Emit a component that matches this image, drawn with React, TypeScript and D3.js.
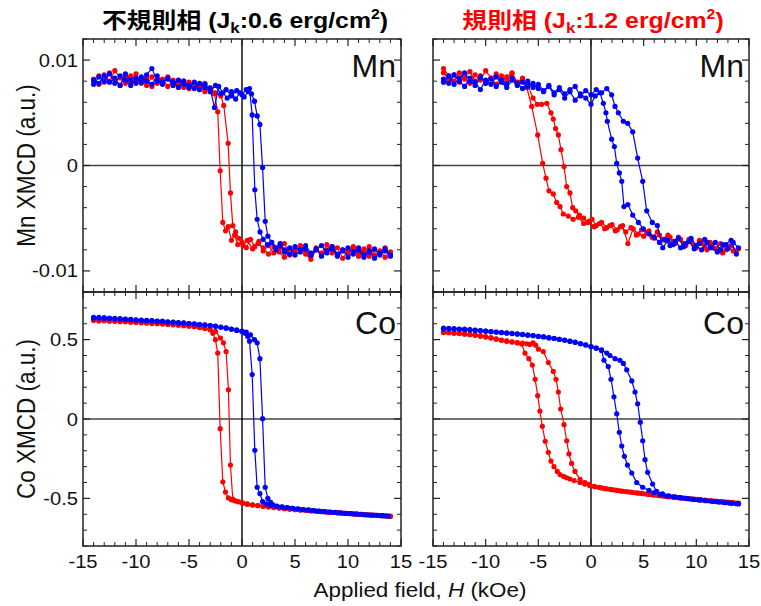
import React from 'react';
import * as d3 from 'd3';

type Pt = [number, number];

// ---------- tick / label data ----------
const xMajorTicks = [-15, -10, -5, 0, 5, 10, 15];
const mnMajorTicks = [-0.01, 0, 0.01];
const mnTickLabels = ['-0.01', '0', '0.01'];
const coMajorTicks = [-0.5, 0, 0.5];
const coTickLabels = ['-0.5', '0', '0.5'];
const phaseNames = ['不規則相', '規則相'];
const jkValues = ['0.6', '1.2'];
const titleColors = ['#000000', '#ff0000'];
const elementLabels = ['Mn', 'Co'];
const yTitles = ['Mn XMCD (a.u.)', 'Co XMCD (a.u.)'];

// ---------- Mn, disordered phase ----------
const mnDisRedA: Pt[] = [[-14,.0082],[-13.5,.0085],[-13,.0079],[-12.5,.0088],[-12,.0081],[-11.5,.0076],[-11,.0084],[-10.5,.0080],[-10,.0087],[-9.5,.0078],[-9,.0083],[-8.5,.0075],[-8,.0081],[-7.5,.0079],[-7,.0084],[-6.5,.0077],[-6,.0080],[-5.5,.0074],[-5,.0079],[-4.5,.0076],[-4,.0072],[-3.5,.0078],[-3,.0071],[-2.6,.0068],[-2.29,.0051],[-2.06,-.0005],[-1.81,-.0054],[-1.55,-.0062],[-1.3,-.0058],[-1.0,-.0071],[-0.7,-.0066],[-0.4,-.0075],[0,-.0073],[0.4,-.0078],[0.8,-.0070],[1.2,-.0077],[1.6,-.0072],[2,-.0081],[2.5,-.0076],[3,-.0083],[3.5,-.0079],[4,-.0074],[4.5,-.0085],[5,-.0080],[5.5,-.0077],[6,-.0084],[6.5,-.0089],[7,-.0080],[7.5,-.0083],[8,-.0075],[8.5,-.0083],[9,-.0078],[9.5,-.0088],[10,-.0081],[10.5,-.0077],[11,-.0084],[11.5,-.0079],[12,-.0086],[12.5,-.0080],[13,-.0083],[13.5,-.0078],[14,-.0084]];
const mnDisRedB: Pt[] = [[-14,.0080],[-13.5,.0077],[-13,.0086],[-12.5,.0080],[-12,.0090],[-11.5,.0083],[-11,.0078],[-10.5,.0085],[-10,.0079],[-9.5,.0082],[-9,.0076],[-8.5,.0084],[-8,.0078],[-7.5,.0082],[-7,.0075],[-6.5,.0081],[-6,.0077],[-5.5,.0080],[-5,.0073],[-4.5,.0078],[-4,.0075],[-3.5,.0070],[-3,.0074],[-2.5,.0069],[-2.0,.0066],[-1.72,.0057],[-1.31,.0021],[-1.09,-.0026],[-0.87,-.0057],[-0.6,-.0063],[-0.3,-.0069],[0.1,-.0076],[0.5,-.0071],[1,-.0079],[1.5,-.0074],[2,-.0078],[2.5,-.0084],[3,-.0077],[3.5,-.0082],[4,-.0087],[4.5,-.0079],[5,-.0083],[5.5,-.0076],[6,-.0081],[6.5,-.0086],[7,-.0078],[7.5,-.0084],[8,-.0080],[8.5,-.0077],[9,-.0085],[9.5,-.0080],[10,-.0083],[10.5,-.0078],[11,-.0086],[11.5,-.0081],[12,-.0077],[12.5,-.0085],[13,-.0081],[13.5,-.0087],[14,-.0082]];
const mnDisBlueA: Pt[] = [[-14,.0077],[-13.5,.0084],[-13,.0080],[-12.5,.0087],[-12,.0078],[-11.5,.0085],[-11,.0081],[-10.5,.0076],[-10,.0083],[-9.5,.0079],[-9,.0086],[-8.5,.0092],[-8,.0080],[-7.5,.0077],[-7,.0083],[-6.5,.0079],[-6,.0074],[-5.5,.0080],[-5,.0076],[-4.5,.0073],[-4,.0078],[-3.5,.0074],[-3,.0070],[-2.5,.0076],[-2,.0068],[-1.5,.0072],[-1,.0066],[-0.5,.0071],[0,.0067],[0.4,.0072],[0.71,.0073],[0.96,.0048],[1.21,-.0023],[1.43,-.0051],[1.7,-.0063],[2.0,-.0070],[2.4,-.0075],[2.8,-.0073],[3.2,-.0080],[3.6,-.0076],[4,-.0082],[4.5,-.0078],[5,-.0085],[5.5,-.0080],[6,-.0076],[6.5,-.0083],[7,-.0079],[7.5,-.0086],[8,-.0081],[8.5,-.0077],[9,-.0084],[9.5,-.0080],[10,-.0087],[10.5,-.0082],[11,-.0078],[11.5,-.0085],[12,-.0081],[12.5,-.0088],[13,-.0083],[13.5,-.0079],[14,-.0085]];
const mnDisBlueB: Pt[] = [[-14,.0081],[-13.5,.0078],[-13,.0085],[-12.5,.0079],[-12,.0083],[-11.5,.0076],[-11,.0087],[-10.5,.0081],[-10,.0078],[-9.5,.0084],[-9,.0080],[-8.5,.0077],[-8,.0085],[-7.5,.0079],[-7,.0082],[-6.5,.0076],[-6,.0081],[-5.5,.0077],[-5,.0074],[-4.5,.0079],[-4,.0072],[-3.5,.0077],[-3,.0073],[-2.6,.0055],[-2.2,.0075],[-1.8,.0069],[-1.4,.0064],[-1,.0070],[-0.6,.0063],[-0.2,.0069],[0.2,.0065],[0.6,.0070],[0.9,.0068],[1.18,.0061],[1.43,.0047],[1.69,.0039],[1.94,-.0002],[2.19,-.0053],[2.44,-.0067],[2.8,-.0073],[3.2,-.0078],[3.6,-.0074],[4,-.0080],[4.5,-.0084],[5,-.0077],[5.5,-.0082],[6,-.0079],[6.5,-.0085],[7,-.0080],[7.5,-.0076],[8,-.0083],[8.5,-.0079],[9,-.0086],[9.5,-.0081],[10,-.0078],[10.5,-.0084],[11,-.0080],[11.5,-.0087],[12,-.0082],[12.5,-.0079],[13,-.0085],[13.5,-.0081],[14,-.0086]];

// ---------- Mn, ordered phase ----------
const mnOrdRedA: Pt[] = [[-14,.0092],[-13.5,.0085],[-13,.0080],[-12.5,.0088],[-12,.0082],[-11.5,.0078],[-11,.0086],[-10.5,.0081],[-10,.0090],[-9.5,.0083],[-9,.0077],[-8.5,.0085],[-8,.0080],[-7.5,.0087],[-7,.0079],[-6.5,.0083],[-6.1,.0074],[-5.63,.0056],[-5.06,.0029],[-4.59,.0002],[-4.27,-.0012],[-3.99,-.0024],[-3.58,-.0027],[-3.26,-.0035],[-2.94,-.0039],[-2.63,-.0046],[-2.16,-.0048],[-1.7,-.0051],[-1.2,-.0049],[-0.7,-.0055],[-0.2,-.0053],[0.3,-.0058],[0.8,-.0055],[1.3,-.0060],[1.8,-.0057],[2.3,-.0062],[2.8,-.0058],[3.3,-.0063],[3.8,-.0059],[4.3,-.0066],[4.8,-.0061],[5.3,-.0064],[5.8,-.0068],[6.3,-.0063],[6.8,-.0070],[7.3,-.0066],[7.8,-.0072],[8.3,-.0068],[8.8,-.0074],[9.3,-.0070],[9.8,-.0076],[10.3,-.0071],[10.8,-.0077],[11.3,-.0073],[11.8,-.0079],[12.3,-.0074],[12.8,-.0080],[13.3,-.0076],[13.8,-.0081]];
const mnOrdRedB: Pt[] = [[-14,.0088],[-13.5,.0081],[-13,.0086],[-12.5,.0079],[-12,.0084],[-11.5,.0089],[-11,.0080],[-10.5,.0085],[-10,.0078],[-9.5,.0083],[-9,.0087],[-8.5,.0080],[-8,.0084],[-7.5,.0088],[-7,.0078],[-6.5,.0082],[-6,.0076],[-5.5,.0064],[-5.1,.0058],[-4.7,.0058],[-4.2,.0059],[-3.8,.0050],[-3.58,.0044],[-3.36,.0035],[-3.1,.0029],[-2.85,.0015],[-2.56,-.0001],[-2.31,-.0020],[-2.0,-.0026],[-1.74,-.0040],[-1.45,-.0043],[-1.1,-.0047],[-0.7,-.0050],[-0.3,-.0054],[0.1,-.0051],[0.5,-.0057],[1,-.0054],[1.5,-.0059],[2,-.0056],[2.5,-.0061],[3,-.0057],[3.5,-.0074],[4,-.0060],[4.5,-.0065],[5,-.0067],[5.5,-.0062],[6,-.0069],[6.5,-.0066],[7,-.0071],[7.5,-.0068],[8,-.0074],[8.5,-.0070],[9,-.0076],[9.5,-.0072],[10,-.0078],[10.5,-.0074],[11,-.0080],[11.5,-.0075],[12,-.0079],[12.5,-.0083],[13,-.0077],[13.5,-.0081],[14,-.0079]];
const mnOrdBlueA: Pt[] = [[-14,.0082],[-13.5,.0078],[-13,.0086],[-12.5,.0080],[-12,.0075],[-11.5,.0083],[-11,.0079],[-10.5,.0072],[-10,.0081],[-9.5,.0077],[-9,.0084],[-8.5,.0079],[-8,.0074],[-7.5,.0081],[-7,.0076],[-6.5,.0079],[-6,.0075],[-5.5,.0078],[-5,.0073],[-4.5,.0070],[-4,.0075],[-3.5,.0067],[-3,.0072],[-2.5,.0064],[-2,.0070],[-1.5,.0062],[-1,.0068],[-0.5,.0064],[0,.0058],[0.4,.0066],[0.85,.0069],[1.17,.0059],[1.42,.0050],[1.55,.0042],[1.96,.0025],[2.22,.0018],[2.44,.0002],[2.69,-.0007],[2.92,-.0015],[3.13,-.0039],[3.5,-.0037],[3.96,-.0047],[4.5,-.0054],[4.97,-.0060],[5.5,-.0065],[6,-.0068],[6.5,-.0073],[7,-.0070],[7.5,-.0076],[8,-.0072],[8.5,-.0078],[9,-.0074],[9.5,-.0069],[10,-.0076],[10.5,-.0080],[11,-.0073],[11.5,-.0078],[12,-.0082],[12.5,-.0075],[13,-.0079],[13.5,-.0073],[14,-.0078]];
const mnOrdBlueB: Pt[] = [[-14,.0079],[-13.5,.0085],[-13,.0077],[-12.5,.0083],[-12,.0088],[-11.5,.0080],[-11,.0076],[-10.5,.0084],[-10,.0078],[-9.5,.0082],[-9,.0075],[-8.5,.0081],[-8,.0077],[-7.5,.0083],[-7,.0078],[-6.5,.0073],[-6,.0080],[-5.5,.0074],[-5,.0077],[-4.5,.0071],[-4,.0076],[-3.5,.0069],[-3,.0074],[-2.5,.0068],[-2,.0072],[-1.5,.0075],[-1,.0066],[-0.5,.0071],[0,.0067],[0.5,.0072],[1,.0069],[1.5,.0073],[1.96,.0067],[2.28,.0056],[2.6,.0050],[3.07,.0042],[3.48,.0040],[3.96,.0032],[4.43,.0007],[4.91,-.0015],[5.29,-.0043],[5.82,-.0054],[6.3,-.0057],[6.81,-.0078],[7.3,-.0071],[7.8,-.0075],[8.3,-.0069],[8.8,-.0077],[9.3,-.0072],[9.8,-.0079],[10.3,-.0074],[10.8,-.0070],[11.3,-.0078],[11.8,-.0073],[12.3,-.0080],[12.8,-.0075],[13.3,-.0071],[13.8,-.0084]];

// ---------- Co, disordered phase ----------
const coDisRedA: Pt[] = [[-14,.625],[-13.5,.622],[-13,.624],[-12.5,.620],[-12,.619],[-11.5,.617],[-11,.615],[-10.5,.613],[-10,.611],[-9.5,.610],[-9,.607],[-8.5,.605],[-8,.603],[-7.5,.601],[-7,.598],[-6.5,.596],[-6,.593],[-5.5,.590],[-5,.587],[-4.5,.583],[-4,.578],[-3.5,.572],[-3,.562],[-2.75,.540],[-2.51,.500],[-2.29,.415],[-2.06,-.061],[-1.81,-.396],[-1.56,-.460],[-1.28,-.497],[-1,-.508],[-0.7,-.515],[-0.4,-.520],[0,-.528],[0.5,-.535],[1,-.540],[1.5,-.545],[2,-.549],[2.5,-.553],[3,-.556],[3.5,-.560],[4,-.563],[4.5,-.566],[5,-.569],[5.5,-.572],[6,-.575],[6.5,-.578],[7,-.580],[7.5,-.583],[8,-.586],[8.5,-.588],[9,-.590],[9.5,-.593],[10,-.595],[10.5,-.597],[11,-.600],[11.5,-.602],[12,-.604],[12.5,-.606],[13,-.608],[13.5,-.610],[14,-.612]];
const coDisRedB: Pt[] = [[-14,.620],[-13.5,.618],[-13,.619],[-12.5,.616],[-12,.615],[-11.5,.613],[-11,.612],[-10.5,.610],[-10,.608],[-9.5,.606],[-9,.604],[-8.5,.602],[-8,.600],[-7.5,.598],[-7,.596],[-6.5,.593],[-6,.591],[-5.5,.588],[-5,.585],[-4.5,.581],[-4,.576],[-3.5,.570],[-3,.563],[-2.5,.552],[-2.03,.510],[-1.75,.480],[-1.5,.425],[-1.28,.184],[-1.09,-.290],[-0.87,-.505],[-0.6,-.515],[-0.3,-.522],[0.1,-.530],[0.5,-.537],[1,-.542],[1.5,-.546],[2,-.550],[2.5,-.554],[3,-.558],[3.5,-.561],[4,-.565],[4.5,-.568],[5,-.571],[5.5,-.574],[6,-.576],[6.5,-.579],[7,-.582],[7.5,-.584],[8,-.587],[8.5,-.589],[9,-.592],[9.5,-.594],[10,-.596],[10.5,-.599],[11,-.601],[11.5,-.603],[12,-.605],[12.5,-.607],[13,-.609],[13.5,-.611],[14,-.613]];
const coDisBlueA: Pt[] = [[-14,.640],[-13.5,.636],[-13,.638],[-12.5,.633],[-12,.634],[-11.5,.630],[-11,.629],[-10.5,.626],[-10,.625],[-9.5,.622],[-9,.621],[-8.5,.618],[-8,.616],[-7.5,.614],[-7,.612],[-6.5,.609],[-6,.607],[-5.5,.604],[-5,.601],[-4.5,.598],[-4,.595],[-3.5,.592],[-3,.588],[-2.5,.584],[-2,.578],[-1.5,.572],[-1,.565],[-0.5,.558],[0,.551],[0.3,.540],[0.55,.520],[0.71,.490],[0.96,.280],[1.21,-.197],[1.43,-.430],[1.69,-.470],[1.94,-.520],[2.3,-.535],[2.7,-.543],[3.2,-.550],[3.7,-.555],[4.2,-.559],[4.7,-.563],[5.2,-.567],[5.7,-.571],[6.2,-.574],[6.7,-.577],[7.2,-.580],[7.7,-.583],[8.2,-.586],[8.7,-.589],[9.2,-.591],[9.7,-.594],[10.2,-.596],[10.7,-.599],[11.2,-.601],[11.7,-.603],[12.2,-.605],[12.7,-.607],[13.2,-.609],[13.7,-.611]];
const coDisBlueB: Pt[] = [[-14,.636],[-13.5,.640],[-13,.634],[-12.5,.636],[-12,.631],[-11.5,.632],[-11,.627],[-10.5,.628],[-10,.623],[-9.5,.623],[-9,.619],[-8.5,.620],[-8,.615],[-7.5,.616],[-7,.611],[-6.5,.611],[-6,.606],[-5.5,.606],[-5,.601],[-4.5,.600],[-4,.595],[-3.5,.593],[-3,.589],[-2.5,.585],[-2,.579],[-1.5,.574],[-1,.567],[-0.5,.561],[0,.554],[0.4,.548],[0.8,.530],[1.18,.500],[1.43,.480],[1.69,.380],[1.94,.002],[2.19,-.430],[2.44,-.500],[2.7,-.525],[2.91,-.540],[3.3,-.548],[3.8,-.554],[4.3,-.558],[4.8,-.563],[5.3,-.566],[5.8,-.570],[6.3,-.573],[6.8,-.577],[7.3,-.580],[7.8,-.583],[8.3,-.586],[8.8,-.588],[9.3,-.591],[9.8,-.594],[10.3,-.596],[10.8,-.598],[11.3,-.601],[11.8,-.603],[12.3,-.605],[12.8,-.607],[13.3,-.609],[13.8,-.612]];

// ---------- Co, ordered phase ----------
const coOrdRedA: Pt[] = [[-14,.548],[-13.5,.546],[-13,.543],[-12.5,.540],[-12,.537],[-11.5,.534],[-11,.530],[-10.5,.524],[-10,.519],[-9.5,.512],[-9,.505],[-8.5,.497],[-8,.492],[-7.5,.486],[-7,.480],[-6.58,.472],[-6.27,.415],[-5.9,.380],[-5.57,.340],[-5.3,.250],[-5.06,.147],[-4.85,.050],[-4.62,-.046],[-4.35,-.140],[-4.05,-.210],[-3.8,-.265],[-3.51,-.300],[-3.2,-.330],[-2.94,-.350],[-2.6,-.362],[-2.31,-.370],[-2.0,-.378],[-1.6,-.388],[-1.04,-.400],[-0.6,-.410],[-0.1,-.420],[0.4,-.427],[1,-.434],[1.5,-.440],[2,-.445],[2.5,-.450],[3,-.455],[3.5,-.459],[4,-.463],[4.5,-.467],[5,-.471],[5.5,-.475],[6,-.479],[6.5,-.483],[7,-.487],[7.5,-.490],[8,-.494],[8.5,-.497],[9,-.500],[9.5,-.503],[10,-.506],[10.5,-.509],[11,-.512],[11.5,-.515],[12,-.518],[12.5,-.521],[13,-.524],[13.5,-.527],[14,-.530]];
const coOrdRedB: Pt[] = [[-14,.545],[-13.5,.544],[-13,.540],[-12.5,.538],[-12,.534],[-11.5,.531],[-11,.527],[-10.5,.522],[-10,.516],[-9.5,.510],[-9,.503],[-8.5,.496],[-8,.490],[-7.5,.485],[-7,.481],[-6.5,.478],[-6.1,.474],[-5.79,.470],[-5.5,.480],[-5.25,.465],[-4.99,.440],[-4.53,.425],[-4.05,.356],[-3.58,.300],[-3.32,.250],[-3.1,.170],[-2.88,.063],[-2.56,-.036],[-2.31,-.137],[-2.09,-.220],[-1.84,-.280],[-1.52,-.330],[-1.04,-.380],[-0.57,-.400],[-0.2,-.412],[0.3,-.424],[0.8,-.431],[1.3,-.438],[1.8,-.443],[2.3,-.448],[2.8,-.453],[3.3,-.457],[3.8,-.461],[4.3,-.465],[4.8,-.469],[5.3,-.473],[5.8,-.477],[6.3,-.481],[6.8,-.485],[7.3,-.489],[7.8,-.492],[8.3,-.495],[8.8,-.499],[9.3,-.502],[9.8,-.505],[10.3,-.508],[10.8,-.511],[11.3,-.514],[11.8,-.517],[12.3,-.520],[12.8,-.523],[13.3,-.526],[13.8,-.529]];
const coOrdBlueA: Pt[] = [[-14,.572],[-13.5,.568],[-13,.570],[-12.5,.565],[-12,.566],[-11.5,.561],[-11,.560],[-10.5,.556],[-10,.554],[-9.5,.550],[-9,.548],[-8.5,.545],[-8,.542],[-7.5,.538],[-7,.536],[-6.5,.532],[-6,.529],[-5.5,.525],[-5,.521],[-4.5,.517],[-4,.512],[-3.5,.507],[-3,.502],[-2.5,.496],[-2,.490],[-1.5,.483],[-1,.475],[-0.5,.466],[0,.456],[0.5,.446],[1,.432],[1.23,.370],[1.64,.330],[1.9,.250],[2.18,.140],[2.44,.033],[2.69,-.084],[2.92,-.170],[3.17,-.235],[3.46,-.290],[3.87,-.340],[4.34,-.400],[4.91,-.430],[5.5,-.450],[6,-.463],[6.6,-.475],[7.2,-.485],[7.8,-.490],[8.4,-.495],[9,-.500],[9.6,-.505],[10.2,-.510],[10.8,-.514],[11.4,-.518],[12,-.522],[12.6,-.526],[13.2,-.530],[13.8,-.534]];
const coOrdBlueB: Pt[] = [[-14,.568],[-13.5,.571],[-13,.566],[-12.5,.567],[-12,.562],[-11.5,.563],[-11,.558],[-10.5,.557],[-10,.553],[-9.5,.551],[-9,.547],[-8.5,.544],[-8,.541],[-7.5,.539],[-7,.535],[-6.5,.533],[-6,.528],[-5.5,.526],[-5,.520],[-4.5,.518],[-4,.511],[-3.5,.508],[-3,.501],[-2.5,.497],[-2,.489],[-1.5,.484],[-1,.474],[-0.5,.467],[0,.455],[0.5,.447],[1,.435],[1.5,.415],[1.8,.400],[2.28,.380],[2.75,.370],[3.07,.350],[3.39,.310],[3.87,.240],[4.18,.170],[4.43,.096],[4.68,-.020],[4.91,-.137],[5.13,-.256],[5.38,-.336],[5.85,-.410],[6.22,-.455],[6.8,-.472],[7.4,-.484],[8,-.491],[8.6,-.497],[9.2,-.502],[9.8,-.507],[10.4,-.511],[11,-.515],[11.6,-.519],[12.2,-.523],[12.8,-.527],[13.4,-.531],[14,-.535]];

// ---------- layout ----------
const W = 761, H = 606;
const FONT = "'Liberation Sans', Arial, Helvetica, sans-serif";
const CJK = "'Liberation Sans', 'Noto Sans CJK JP', sans-serif";
const RED = '#ff0000', BLUE = '#0000ff';
const cols: [number, number][] = [[83, 401], [433, 749]];
const rows: [number, number][] = [[39, 292], [292, 546]];
const TX = 1.12; // horizontal stretch of text in the original figure

interface PanelProps {
  col: number; row: number; series: { color: string; pts: Pt[] }[];
}

function Panel({ col, row, series }: PanelProps) {
  const [x0, x1] = cols[col];
  const [y0, y1] = rows[row];
  const x = d3.scaleLinear().domain([-15, 15]).range([x0, x1]);
  const isMn = row === 0;
  const y = d3.scaleLinear().domain(isMn ? [-0.012, 0.012] : [-0.8, 0.8]).range([y1, y0]);
  const yMajor = isMn ? mnMajorTicks : coMajorTicks;
  const yLabels = isMn ? mnTickLabels : coTickLabels;
  const yMinor = isMn
    ? d3.range(-12, 13, 2).filter(v => v % 10 !== 0).map(v => v / 1000)
    : d3.range(-8, 9, 1).filter(v => v % 5 !== 0).map(v => v / 10);
  const xMinor = d3.range(-14, 15, 1).filter(v => v % 5 !== 0);
  const line = d3.line<Pt>().x(d => x(d[0])).y(d => y(d[1]));
  const MAJ = 7, MIN = 4;
  const tk = '#222';
  return (
    <g>
      <line x1={x0} x2={x1} y1={y(0)} y2={y(0)} stroke="#444" strokeWidth={1.4} />
      <line x1={x(0)} x2={x(0)} y1={y0} y2={y1} stroke="#000" strokeWidth={1.4} />
      {series.map((s, i) => (
        <g key={i}>
          <path d={line(s.pts) || ''} fill="none" stroke={s.color} strokeWidth={1.2} />
          {s.pts.map((p, j) => (
            <circle key={j} cx={x(p[0])} cy={y(p[1])} r={2.6} fill={s.color} />
          ))}
        </g>
      ))}
      <rect x={x0} y={y0} width={x1 - x0} height={y1 - y0} fill="none" stroke="#222" strokeWidth={1.5} />
      {xMajorTicks.map(v => (
        <g key={'xM' + v}>
          <line x1={x(v)} x2={x(v)} y1={y1} y2={y1 - MAJ} stroke={tk} strokeWidth={1.2} />
          <line x1={x(v)} x2={x(v)} y1={y0} y2={y0 + MAJ} stroke={tk} strokeWidth={1.2} />
        </g>
      ))}
      {xMinor.map(v => (
        <g key={'xm' + v}>
          <line x1={x(v)} x2={x(v)} y1={y1} y2={y1 - MIN} stroke={tk} strokeWidth={1} />
          <line x1={x(v)} x2={x(v)} y1={y0} y2={y0 + MIN} stroke={tk} strokeWidth={1} />
        </g>
      ))}
      {yMajor.map(v => (
        <g key={'yM' + v}>
          <line x1={x0} x2={x0 + MAJ} y1={y(v)} y2={y(v)} stroke={tk} strokeWidth={1.2} />
          <line x1={x1} x2={x1 - MAJ} y1={y(v)} y2={y(v)} stroke={tk} strokeWidth={1.2} />
        </g>
      ))}
      {yMinor.map(v => (
        <g key={'ym' + v}>
          <line x1={x0} x2={x0 + MIN} y1={y(v)} y2={y(v)} stroke={tk} strokeWidth={1} />
          <line x1={x1} x2={x1 - MIN} y1={y(v)} y2={y(v)} stroke={tk} strokeWidth={1} />
        </g>
      ))}
      {col === 0 && yMajor.map((v, i) => (
        <g key={'yl' + v} transform={`translate(${x0 - 5},${y(v) + 6.5}) scale(${TX},1)`}>
          <text textAnchor="end" fontFamily={FONT} fontSize={18} fill="#111">{yLabels[i]}</text>
        </g>
      ))}
      {row === 1 && xMajorTicks.map(v => (
        <g key={'xl' + v} transform={`translate(${x(v)},${y1 + 22}) scale(${TX},1)`}>
          <text textAnchor="middle" fontFamily={FONT} fontSize={18} fill="#111">{String(v)}</text>
        </g>
      ))}
      <g transform={`translate(${x1 - 5},${isMn ? y0 + 38 : y0 + 42}) scale(1.0,1)`}>
        <text textAnchor="end" fontFamily={FONT} fontSize={32} fill="#111">{elementLabels[row]}</text>
      </g>
    </g>
  );
}

export default function App() {
  const panels = [
    { col: 0, row: 0, series: [{ color: RED, pts: mnDisRedA }, { color: RED, pts: mnDisRedB }, { color: BLUE, pts: mnDisBlueA }, { color: BLUE, pts: mnDisBlueB }] },
    { col: 1, row: 0, series: [{ color: RED, pts: mnOrdRedA }, { color: RED, pts: mnOrdRedB }, { color: BLUE, pts: mnOrdBlueA }, { color: BLUE, pts: mnOrdBlueB }] },
    { col: 0, row: 1, series: [{ color: RED, pts: coDisRedA }, { color: RED, pts: coDisRedB }, { color: BLUE, pts: coDisBlueA }, { color: BLUE, pts: coDisBlueB }] },
    { col: 1, row: 1, series: [{ color: RED, pts: coOrdRedA }, { color: RED, pts: coOrdRedB }, { color: BLUE, pts: coOrdBlueA }, { color: BLUE, pts: coOrdBlueB }] },
  ];
  const titleCenters = [(cols[0][0] + cols[0][1]) / 2 + 3, (cols[1][0] + cols[1][1]) / 2 + 2];
  return (
    <svg width={W} height={H} viewBox={`0 0 ${W} ${H}`} style={{ position: 'absolute', left: 0, top: 0, background: '#fff' }}>
      <rect x={0} y={0} width={W} height={H} fill="#fff" />
      {panels.map((p, i) => <Panel key={i} {...p} />)}
      {phaseNames.map((name, i) => (
        <g key={'t' + i} transform={`translate(${titleCenters[i]},28) scale(1.13,1)`}>
          <text textAnchor="middle" fontFamily={CJK} fontWeight="bold" fontSize={22} fill={titleColors[i]}>
            {name} (J<tspan fontSize={15} dy={5}>k</tspan><tspan dy={-5}>:{jkValues[i]} erg/cm</tspan><tspan fontSize={14} dy={-9}>2</tspan><tspan dy={9}>)</tspan>
          </text>
        </g>
      ))}
      {yTitles.map((t, i) => (
        <g key={'yt' + i} transform={`translate(35,${(rows[i][0] + rows[i][1]) / 2}) scale(${TX},1) rotate(-90)`}>
          <text textAnchor="middle" fontFamily={FONT} fontSize={22.5} fill="#111">{t}</text>
        </g>
      ))}
      <g transform={`translate(420,597) scale(${TX},1)`}>
        <text textAnchor="middle" fontFamily={FONT} fontSize={20} fill="#111">
          Applied field, <tspan fontStyle="italic">H</tspan> (kOe)
        </text>
      </g>
    </svg>
  );
}
